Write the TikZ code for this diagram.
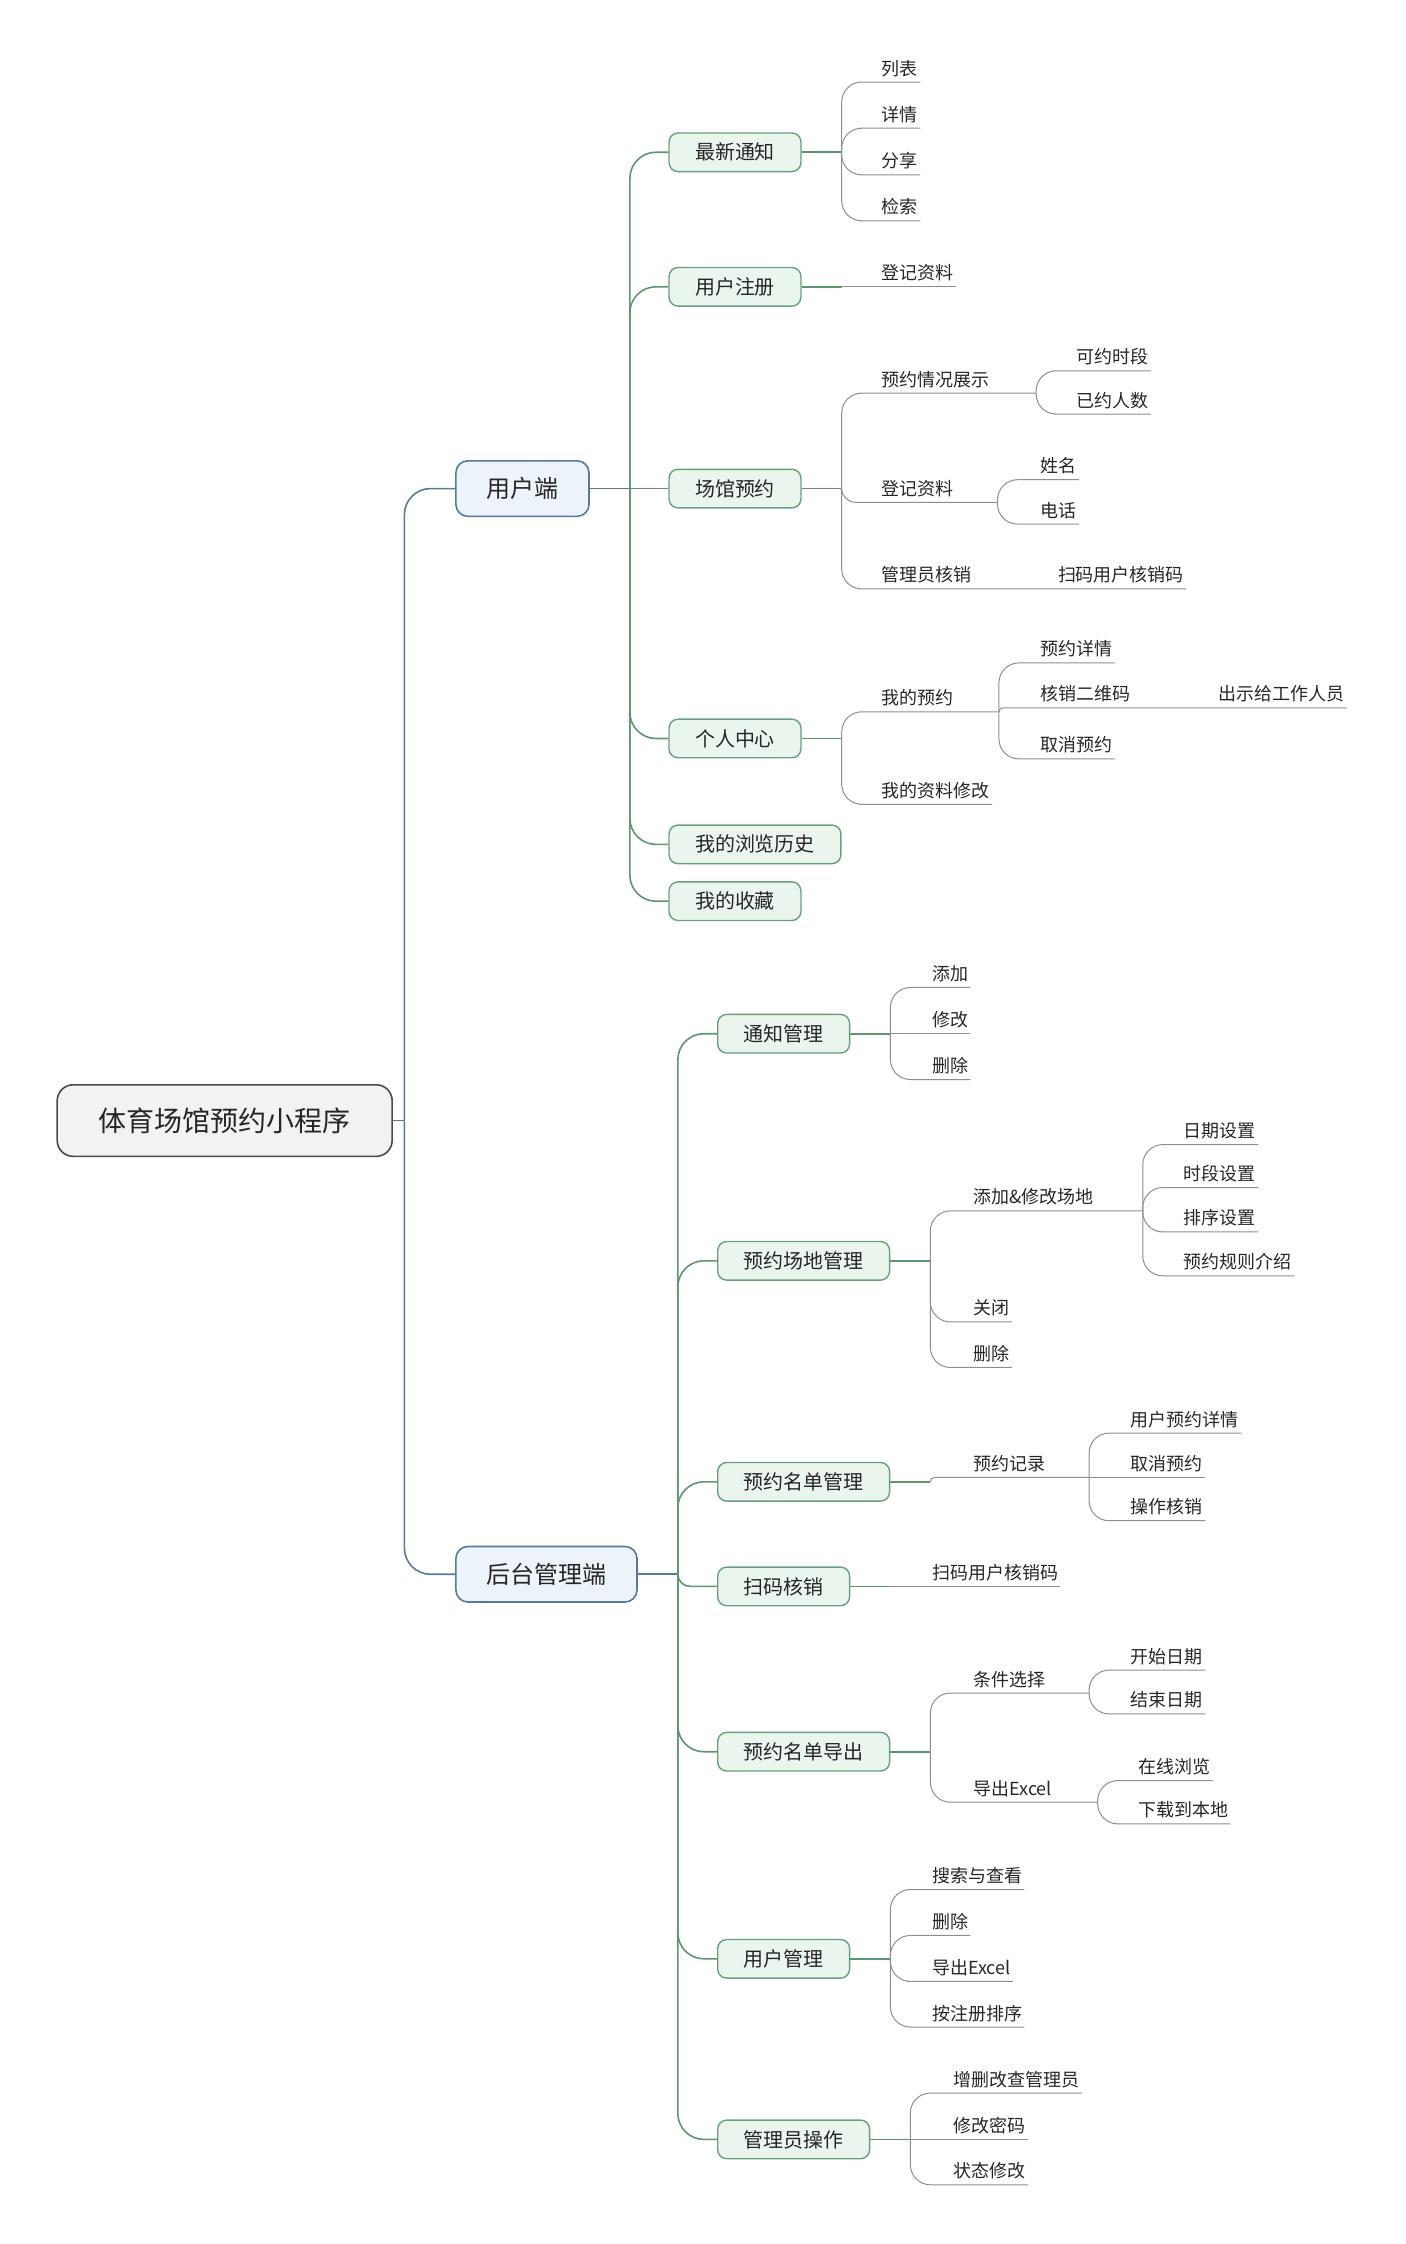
\documentclass[tikz,border=0pt]{standalone}
\usepackage{fontspec}
\setmainfont{Noto Sans CJK SC}
\usetikzlibrary{calc}
\definecolor{rootFill}{HTML}{F2F2F2}
\definecolor{rootDraw}{HTML}{4A4A4A}
\definecolor{mainFill}{HTML}{EDF3FA}
\definecolor{mainDraw}{HTML}{56799C}
\definecolor{subFill}{HTML}{EAF5EE}
\definecolor{subDraw}{HTML}{6A9F7B}
\definecolor{branchGreen}{HTML}{5E966E}
\definecolor{leafGray}{HTML}{8E8E8E}
\definecolor{inkDark}{HTML}{262626}
\newcommand{\boxLink}[3]{%
    \draw[#1] let \p1=(#2), \p2=(#3.west), \n1={min(13pt,abs(\y2-\y1))} in
        [rounded corners=\n1] (\p1) |- (\p2);
}
\newcommand{\leafLink}[3]{%
    \draw[leafline] let \p1=(#1), \p2=(#2.south west), \n1={min(10pt,abs(\y2-\y1))} in
        [rounded corners=\n1] (\p1) |- (\p2) -- (#3);
}
\tikzset{
    rootbox/.style={draw=rootDraw, fill=rootFill, line width=0.8pt, rounded corners=8pt,
        font=\fontsize{14}{16}\selectfont, text=inkDark, inner xsep=20.8pt, minimum height=35.8pt},
    mainbox/.style={draw=mainDraw, fill=mainFill, line width=0.8pt, rounded corners=6pt,
        font=\fontsize{12}{14}\selectfont, text=inkDark, inner xsep=15.3pt, minimum height=27.8pt, anchor=west},
    subbox/.style={draw=subDraw, fill=subFill, line width=0.7pt, rounded corners=4.5pt,
        font=\fontsize{10}{12}\selectfont, text=inkDark, inner xsep=13pt, minimum height=19.3pt, anchor=west},
    leaf/.style={font=\fontsize{9}{10}\selectfont, text=inkDark, inner xsep=1pt, inner ysep=2.5pt,
        text height=7.2pt, text depth=0.8pt, anchor=south west},
    trunk/.style={draw=mainDraw, line width=0.8pt},
    branch/.style={draw=branchGreen, line width=0.8pt},
    leafline/.style={draw=leafGray, line width=0.5pt}
}
\begin{document}
\begin{tikzpicture}[x=0.716pt, y=-0.716pt]
\useasboundingbox (0,0) rectangle (982,1568);

% root and main branches
\node[rootbox] (root) at (157,783) {体育场馆预约小程序};
\node[mainbox] (user) at (318,341.4) {用户端};
\node[mainbox] (admin) at (318,1100) {后台管理端};
\coordinate (j-root) at ($(root.east)+(8,0)$);
\coordinate (j-user) at ($(user.east)+(28,0)$);
\coordinate (j-admin) at ($(admin.east)+(28,0)$);

% user side
\node[subbox] (news) at (467,106.4) {最新通知};
\node[subbox] (reg) at (467,200.4) {用户注册};
\node[subbox] (venue) at (467,341.4) {场馆预约};
\node[subbox] (pcenter) at (467,516) {个人中心};
\node[subbox] (history) at (467,590) {我的浏览历史};
\node[subbox] (fav) at (467,629.7) {我的收藏};

\node[leaf] (list) at (614.6,57.3) {列表};
\node[leaf] (detail) at (614.6,89.6) {详情};
\node[leaf] (share) at (614.6,122.2) {分享};
\node[leaf] (search) at (614.6,154.3) {检索};
\node[leaf] (regdata) at (614.6,200.4) {登记资料};

\node[leaf] (show) at (614.6,274.7) {预约情况展示};
\node[leaf] (slot) at (750.6,259.1) {可约时段};
\node[leaf] (booked) at (750.6,289.3) {已约人数};
\node[leaf] (vdata) at (614.6,351) {登记资料};
\node[leaf] (vname) at (725.6,335.2) {姓名};
\node[leaf] (vphone) at (725.6,366.2) {电话};
\node[leaf] (vcheck) at (614.6,411.5) {管理员核销};
\node[leaf] (vscan) at (737.6,411.5) {扫码用户核销码};

\node[leaf] (mybook) at (614.6,497.4) {我的预约};
\node[leaf] (bdetail) at (725.6,463.2) {预约详情};
\node[leaf] (qr) at (725.6,494.6) {核销二维码};
\node[leaf] (staff) at (849.6,494.6) {出示给工作人员};
\node[leaf] (bcancel) at (725.6,530.3) {取消预约};
\node[leaf] (myinfo) at (614.6,562) {我的资料修改};

% admin side
\node[subbox] (notice) at (501,722.3) {通知管理};
\node[subbox] (venueman) at (501,881) {预约场地管理};
\node[subbox] (listman) at (501,1035.4) {预约名单管理};
\node[subbox] (scanv) at (501,1108.5) {扫码核销};
\node[subbox] (export) at (501,1224) {预约名单导出};
\node[subbox] (userman) at (501,1368.7) {用户管理};
\node[subbox] (adminop) at (501,1494.9) {管理员操作};

\node[leaf] (nadd) at (649.6,690) {添加};
\node[leaf] (nmod) at (649.6,722.3) {修改};
\node[leaf] (ndel) at (649.6,754.3) {删除};

\node[leaf] (addmod) at (678.6,846.1) {添加\&修改场地};
\node[leaf] (sdate) at (825.6,799.8) {日期设置};
\node[leaf] (speriod) at (825.6,829.8) {时段设置};
\node[leaf] (sorder) at (825.6,860.8) {排序设置};
\node[leaf] (srule) at (825.6,891.5) {预约规则介绍};
\node[leaf] (vclose) at (678.6,923.7) {关闭};
\node[leaf] (vdel) at (678.6,955.5) {删除};

\node[leaf] (record) at (678.6,1032.3) {预约记录};
\node[leaf] (udetail) at (788.6,1001.4) {用户预约详情};
\node[leaf] (ucancel) at (788.6,1032.3) {取消预约};
\node[leaf] (uverify) at (788.6,1062.6) {操作核销};

\node[leaf] (scancode) at (649.6,1108.5) {扫码用户核销码};

\node[leaf] (cond) at (678.6,1183) {条件选择};
\node[leaf] (bdate) at (788.6,1167) {开始日期};
\node[leaf] (edate) at (788.6,1197.6) {结束日期};
\node[leaf] (excel) at (678.6,1259.3) {导出Excel};
\node[leaf] (online) at (793.6,1244.2) {在线浏览};
\node[leaf] (download) at (793.6,1274.4) {下载到本地};

\node[leaf] (usearch) at (649.6,1320.3) {搜索与查看};
\node[leaf] (udel) at (649.6,1352.4) {删除};
\node[leaf] (uexcel) at (649.6,1384.5) {导出Excel};
\node[leaf] (usort) at (649.6,1416.4) {按注册排序};

\node[leaf] (crud) at (664.6,1462.5) {增删改查管理员};
\node[leaf] (pwd) at (664.6,1494.9) {修改密码};
\node[leaf] (status) at (664.6,1526.6) {状态修改};

% junctions
\foreach \n in {news,reg,venue,pcenter,notice,venueman,listman,scanv,export,userman,adminop}
    {\coordinate (j-\n) at ($(\n.east)+(28,0)$);}
\coordinate (j-show) at (724,274.7);
\coordinate (j-vdata) at (697,351);
\coordinate (j-mybook) at (698,497.4);
\coordinate (j-addmod) at (798.5,846.1);
\coordinate (j-record) at (761,1032.3);
\coordinate (j-cond) at (761,1183);
\coordinate (j-excel) at (767,1259.3);

% root connectors
\draw[trunk] (root.east) -- (j-root);
\boxLink{trunk}{j-root}{user}
\boxLink{trunk}{j-root}{admin}
\draw[trunk] (user.east) -- (j-user);
\draw[trunk] (admin.east) -- (j-admin);
\foreach \b in {news,reg,venue,pcenter,history,fav}
    {\boxLink{branch}{j-user}{\b}}
\foreach \b in {notice,venueman,listman,scanv,export,userman,adminop}
    {\boxLink{branch}{j-admin}{\b}}
\foreach \b in {news,reg,venue,pcenter,notice,venueman,listman,scanv,export,userman,adminop}
    {\draw[branch] (\b.east) -- (j-\b);}

% leaf connectors
\foreach \l in {list,detail,share,search}
    {\leafLink{j-news}{\l}{\l.south east}}
\leafLink{j-reg}{regdata}{regdata.south east}
\leafLink{j-venue}{show}{j-show}
\leafLink{j-show}{slot}{slot.south east}
\leafLink{j-show}{booked}{booked.south east}
\leafLink{j-venue}{vdata}{j-vdata}
\leafLink{j-vdata}{vname}{vname.south east}
\leafLink{j-vdata}{vphone}{vphone.south east}
\leafLink{j-venue}{vcheck}{vscan.south east}
\leafLink{j-pcenter}{mybook}{j-mybook}
\leafLink{j-mybook}{bdetail}{bdetail.south east}
\leafLink{j-mybook}{qr}{staff.south east}
\leafLink{j-mybook}{bcancel}{bcancel.south east}
\leafLink{j-pcenter}{myinfo}{myinfo.south east}

\foreach \l in {nadd,nmod,ndel}
    {\leafLink{j-notice}{\l}{\l.south east}}
\leafLink{j-venueman}{addmod}{j-addmod}
\foreach \l in {sdate,speriod,sorder,srule}
    {\leafLink{j-addmod}{\l}{\l.south east}}
\leafLink{j-venueman}{vclose}{vclose.south east}
\leafLink{j-venueman}{vdel}{vdel.south east}
\leafLink{j-listman}{record}{j-record}
\foreach \l in {udetail,ucancel,uverify}
    {\leafLink{j-record}{\l}{\l.south east}}
\leafLink{j-scanv}{scancode}{scancode.south east}
\leafLink{j-export}{cond}{j-cond}
\leafLink{j-cond}{bdate}{bdate.south east}
\leafLink{j-cond}{edate}{edate.south east}
\leafLink{j-export}{excel}{j-excel}
\leafLink{j-excel}{online}{online.south east}
\leafLink{j-excel}{download}{download.south east}
\foreach \l in {usearch,udel,uexcel,usort}
    {\leafLink{j-userman}{\l}{\l.south east}}
\foreach \l in {crud,pwd,status}
    {\leafLink{j-adminop}{\l}{\l.south east}}
\end{tikzpicture}
\end{document}
